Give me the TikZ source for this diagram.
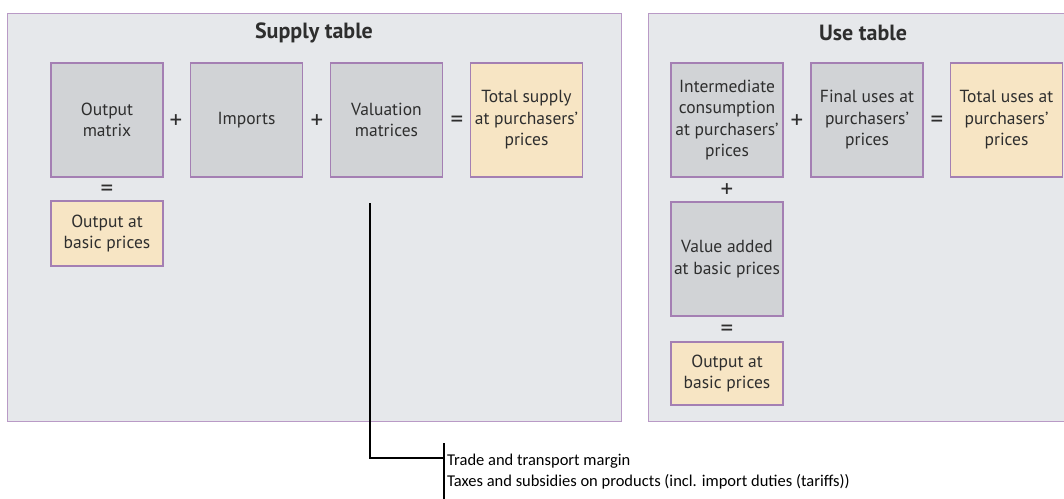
\documentclass[tikz,border=0pt]{standalone}
\usepackage{fontspec}
\setmainfont{PT Sans}
\newfontfamily\notefont{Carlito}
\definecolor{panelfill}{HTML}{E6E8EB}
\definecolor{panelborder}{HTML}{B99AC6}
\definecolor{boxborder}{HTML}{A47FB3}
\definecolor{grayfill}{HTML}{D1D3D6}
\definecolor{yellowfill}{HTML}{F7E5C4}
\definecolor{txt}{HTML}{2E2E2E}
\begin{document}
\begin{tikzpicture}[x=1pt,y=-1pt,
  panel/.style={draw=panelborder,fill=panelfill,line width=1pt},
  boxbase/.style={draw=boxborder,line width=1.1pt,minimum width=112pt,align=center,text=txt,
    font=\fontsize{17.5}{21.5}\selectfont,inner sep=0pt},
  gbox/.style={boxbase,fill=grayfill,minimum height=114pt},
  ybox/.style={boxbase,fill=yellowfill},
  oper/.style={text=txt,font=\fontsize{25}{25}\selectfont,inner sep=0pt},
  ptitle/.style={text=txt,font=\fontsize{22}{26}\selectfont\bfseries,inner sep=0pt},
  conn/.style={draw=black,line width=1.1pt},
  barline/.style={draw=black,line width=2pt},
  note/.style={anchor=base west,font=\notefont\fontsize{16.5}{20}\selectfont,text=black,inner sep=0pt}]
\useasboundingbox (0,0) rectangle (1064,498);
\clip (0,0) rectangle (1064,498);
% panels
\draw[panel] (7,13) rectangle (621,421);
\draw[panel] (648,13) rectangle (1080,421);
\node[ptitle] (suptitle) at (314,33) {Supply table};
\node[ptitle] (usetitle) at (863,33) {Use table};
% supply boxes
\node[gbox] (outmat) at (107,120) {Output\\matrix};
\node[gbox] (imports) at (246.5,120) {Imports};
\node[gbox] (valmat) at (386.5,120) {Valuation\\matrices};
\node[ybox,minimum height=114pt] (totsup) at (526.5,120) {Total supply\\at purchasers’\\prices};
\node[ybox,minimum height=65pt] (outbasic1) at (107,233.5) {Output at\\basic prices};
\node[oper] (p1) at (176,122) {+};
\node[oper] (p2) at (317,122) {+};
\node[oper] (e1) at (457,122) {=};
\node[oper] (e2) at (107,191) {=};
% use boxes
\node[gbox] (interm) at (727,120) {Intermediate\\consumption\\at purchasers’\\prices};
\node[gbox] (final) at (867,120) {Final uses at\\purchasers’\\prices};
\node[ybox,minimum height=114pt] (totuse) at (1006.5,120) {Total uses at\\purchasers’\\prices};
\node[gbox] (valadd) at (727,259) {Value added\\at basic prices};
\node[ybox,minimum height=63pt] (outbasic2) at (727,373.5) {Output at\\basic prices};
\node[oper] (p3) at (797,122) {+};
\node[oper] (e3) at (937,122) {=};
\node[oper] (p4) at (727,191) {+};
\node[oper] (e4) at (727,331) {=};
% connector
\coordinate (vtop) at (370,203);
\coordinate (join) at (444,458);
\coordinate (bartop) at (444,443);
\coordinate (barbot) at (444,500);
\draw[conn] (vtop) |- (join);
\draw[barline] (bartop) -- (barbot);
\node[note] (note1) at (447,465) {Trade and transport margin};
\node[note] (note2) at (447,486) {Taxes and subsidies on products (incl. import duties (tariffs))};
\end{tikzpicture}
\end{document}
